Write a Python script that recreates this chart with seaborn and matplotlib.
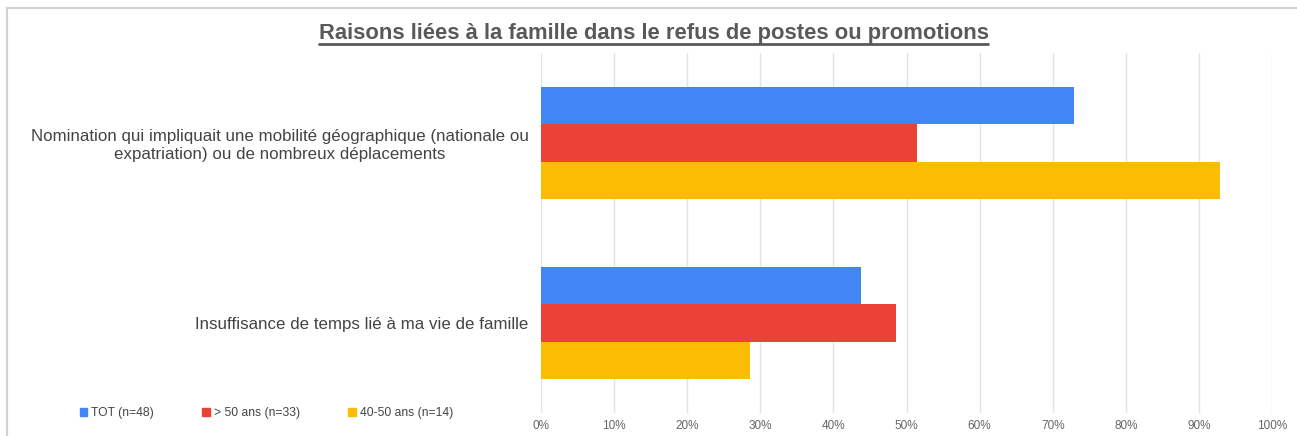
import pandas as pd
import matplotlib.pyplot as plt
import seaborn as sns
from matplotlib.patches import Rectangle
from matplotlib.ticker import PercentFormatter

# --- Data ---
categories = [
    "Nomination qui impliquait une mobilité géographique (nationale ou\nexpatriation) ou de nombreux déplacements",
    "Insuffisance de temps lié à ma vie de famille",
]
groups = ["TOT (n=48)", "> 50 ans (n=33)", "40-50 ans (n=14)"]
tot_values = [72.9, 43.75]
over50_values = [51.5, 48.5]
age4050_values = [92.9, 28.6]
colors = ["#4285F4", "#EA4335", "#FBBC04"]

rows = []
for grp, vals in zip(groups, [tot_values, over50_values, age4050_values]):
    for cat, v in zip(categories, vals):
        rows.append({"categorie": cat, "groupe": grp, "valeur": v})
df = pd.DataFrame(rows)

# --- Plot ---
sns.set_style("white")
plt.rcParams["font.family"] = ["Liberation Sans", "DejaVu Sans"]

fig = plt.figure(figsize=(12.97, 4.36), dpi=100)
ax = fig.add_axes([541 / 1297, 23 / 436, 731 / 1297, 360 / 436])

sns.barplot(data=df, y="categorie", x="valeur", hue="groupe",
            order=categories, hue_order=groups, palette=colors,
            width=0.617, orient="h", ax=ax, legend=False, saturation=1,
            linewidth=0)

ax.set_xlim(0, 100)
ax.set_xticks(range(0, 101, 10))
ax.xaxis.set_major_formatter(PercentFormatter(decimals=0))
ax.grid(axis="x", color="#e3e3e3", linewidth=1)
ax.set_axisbelow(True)
for s in ax.spines.values():
    s.set_visible(False)
ax.tick_params(axis="x", length=0, labelsize=8.5, labelcolor="#666666", pad=5)
ax.tick_params(axis="y", length=0, labelsize=12.2, labelcolor="#444444", pad=9)
for lbl in ax.get_yticklabels():
    lbl.set_horizontalalignment("right")
    lbl.set_multialignment("center")
ax.set_xlabel("")
ax.set_ylabel("")

# title
fig.text(654 / 1297, 1 - 33 / 436, "Raisons liées à la famille dans le refus de postes ou promotions",
         ha="center", va="center", fontsize=15.8, fontweight="bold", color="#595959")
fig.add_artist(plt.Line2D([319 / 1297, 988 / 1297], [1 - 44 / 436, 1 - 44 / 436],
                          color="#595959", linewidth=2))

# outer border
fig.add_artist(Rectangle((7 / 1297, -0.05), 1.1, 1 - 8 / 436 + 0.05, fill=False,
                         edgecolor="#d0d0d0", linewidth=1.5, transform=fig.transFigure))

# legend
handles = [plt.Rectangle((0, 0), 1, 1, color=c) for c in colors]
fig.legend(handles, groups, loc="center left", bbox_to_anchor=(69 / 1297, 1 - 413 / 436),
           ncol=3, frameon=False, fontsize=8.7, handlelength=0.6, handleheight=0.6,
           handletextpad=0.35, columnspacing=4.0, labelcolor="#444444")

fig.savefig("out.png", dpi=100)
